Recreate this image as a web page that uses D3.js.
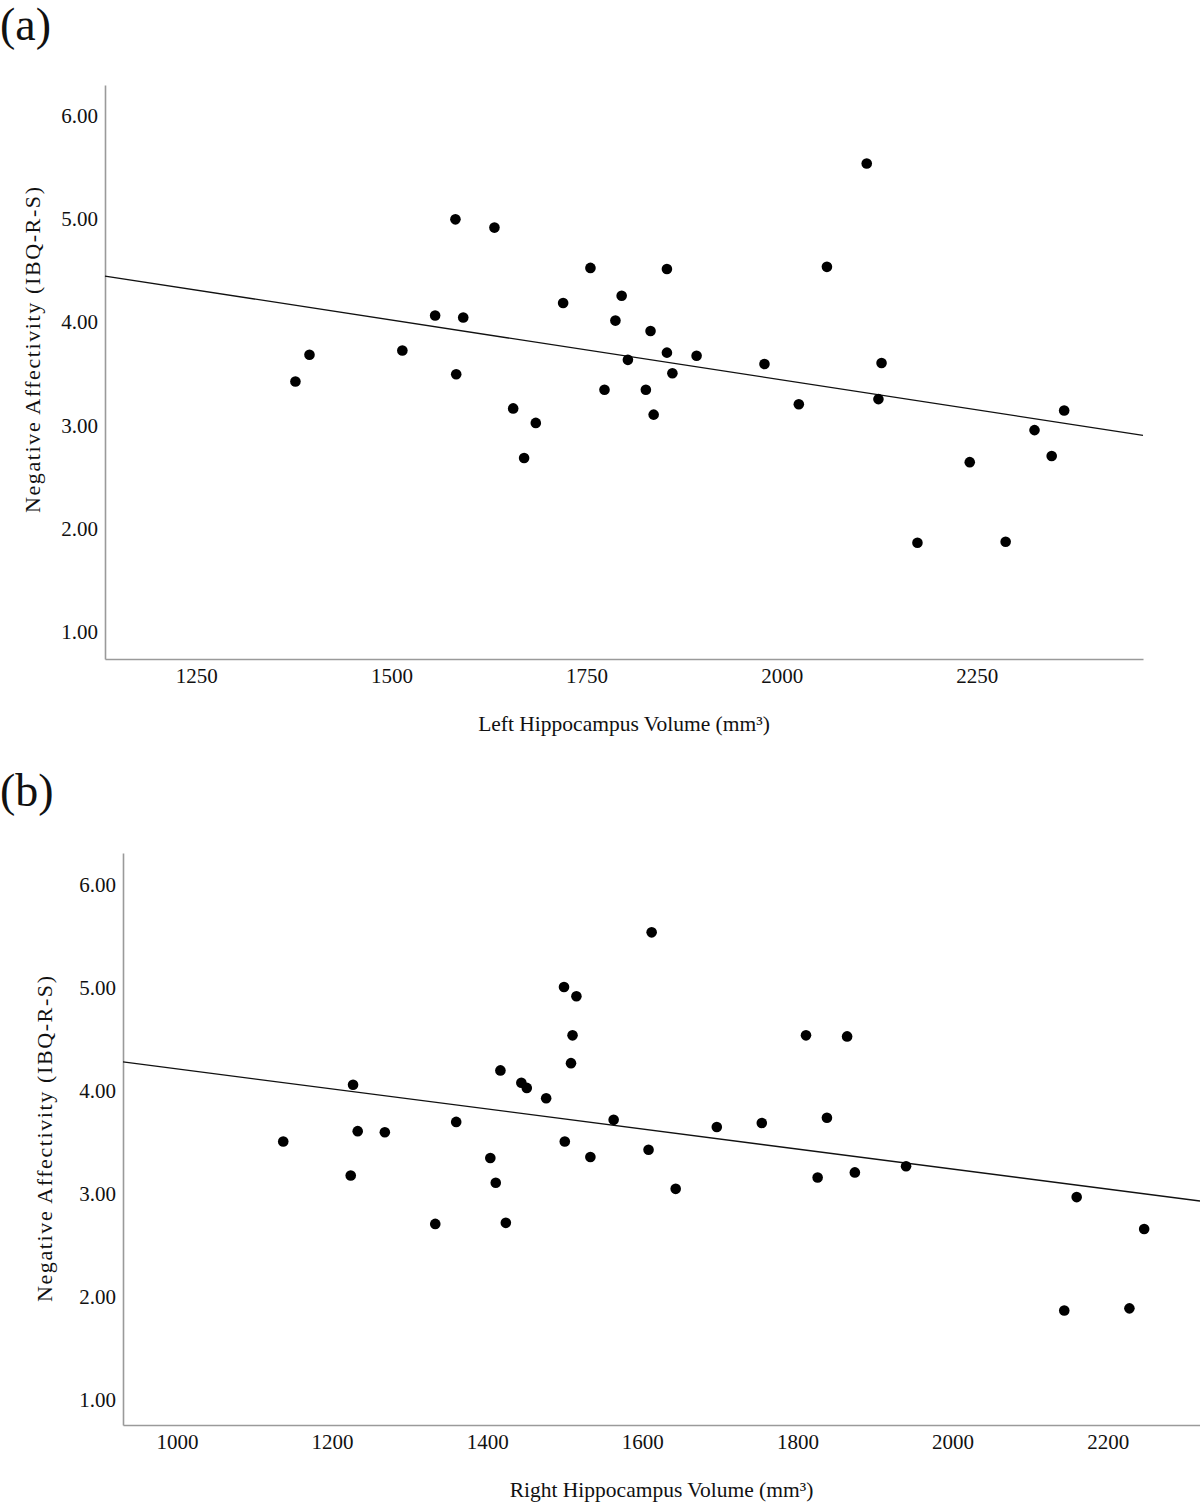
<!DOCTYPE html>
<html>
<head>
<meta charset="utf-8">
<script src="https://cdn.jsdelivr.net/npm/d3@7"></script>
<style>
  body { margin: 0; background: #fff; }
  svg text { font-family: "Liberation Serif", "Times New Roman", serif; fill: #111; }
</style>
</head>
<body>
<div id="chart"></div>
<script>
// panel (a): left hippocampus
const leftVolume = [1377, 1395, 1514, 1556, 1582, 1583, 1592, 1632, 1656, 1670, 1685, 1720,
  1755, 1773, 1787, 1795, 1803, 1826, 1832, 1836, 1853, 1853, 1860, 1891,
  1978, 2022, 2058, 2109, 2124, 2128, 2174, 2241, 2287, 2324, 2346, 2362];
const leftNA = [3.42, 3.68, 3.72, 4.06, 4.99, 3.49, 4.04, 4.91, 3.16, 2.68, 3.02, 4.18,
  4.52, 3.34, 4.01, 4.25, 3.63, 3.34, 3.91, 3.10, 4.51, 3.70, 3.50, 3.67,
  3.59, 3.20, 4.53, 5.53, 3.25, 3.60, 1.86, 2.64, 1.87, 2.95, 2.70, 3.14];
const leftFit = [5.754, -0.001159]; // intercept, slope

// panel (b): right hippocampus
const rightVolume = [1137, 1224, 1227, 1233, 1268, 1333, 1360, 1404, 1411, 1417, 1424, 1444,
  1451, 1476, 1499, 1500, 1508, 1510, 1515, 1533, 1563, 1608, 1612, 1643,
  1696, 1754, 1811, 1826, 1838, 1864, 1874, 1940, 2144, 2160, 2228, 2247];
const rightNA = [3.50, 3.17, 4.05, 3.60, 3.59, 2.70, 3.69, 3.34, 3.10, 4.19, 2.71, 4.07,
  4.02, 3.92, 5.00, 3.50, 4.26, 4.53, 4.91, 3.35, 3.71, 3.42, 5.53, 3.04,
  3.64, 3.68, 4.53, 3.15, 3.73, 4.52, 3.20, 3.26, 1.86, 2.96, 1.88, 2.65];
const rightFit = [5.176, -0.000972];

const yTicks = [1, 2, 3, 4, 5, 6];
const leftXTicks = [1250, 1500, 1750, 2000, 2250];
const rightXTicks = [1000, 1200, 1400, 1600, 1800, 2000, 2200];

const svg = d3.select("#chart")
  .append("svg")
  .attr("width", 1200)
  .attr("height", 1502);

function buildPanel(opts) {
  const g = svg.append("g");

  // panel letter
  g.append("text")
    .attr("x", 0)
    .attr("y", opts.letterY)
    .style("font-size", "46px")
    .text(opts.letter);

  const xscale = d3.scaleLinear().domain(opts.xDomain).range([opts.left, opts.right]);
  const yscale = d3.scaleLinear().domain(opts.yDomain).range([opts.bottom, opts.top]);

  const xAxis = d3.axisBottom(xscale).tickValues(opts.xTicks).tickSize(0).tickPadding(9)
    .tickFormat(d3.format("d"));
  const yAxis = d3.axisLeft(yscale).tickValues(yTicks).tickSize(0).tickPadding(7)
    .tickFormat(d3.format(".2f"));

  const xg = g.append("g")
    .attr("transform", `translate(0,${opts.bottom})`)
    .call(xAxis);
  const yg = g.append("g")
    .attr("transform", `translate(${opts.left},0)`)
    .call(yAxis);

  [xg, yg].forEach(a => {
    a.select(".domain").attr("stroke", "#9a9a9a").attr("stroke-width", 1.6);
    a.selectAll("text")
      .style("font-family", "'Liberation Serif', 'Times New Roman', serif")
      .style("font-size", "21px")
      .attr("fill", "#111");
  });
  xg.selectAll("text").attr("dy", "0.71em");
  yg.selectAll("text").attr("dy", "0.35em");

  // fit line across full x range
  const line = d3.line()
    .x(d => xscale(d))
    .y(d => yscale(opts.fit[0] + opts.fit[1] * d));
  g.append("path")
    .datum(opts.xDomain)
    .attr("d", line)
    .attr("fill", "none")
    .attr("stroke", "#111")
    .attr("stroke-width", 1.3);

  // dots
  g.selectAll(".dot")
    .data(opts.xs.map((x, i) => ({ x: x, y: opts.ys[i] })))
    .enter().append("circle")
    .attr("class", "dot")
    .attr("cx", d => xscale(d.x))
    .attr("cy", d => yscale(d.y))
    .attr("r", 5.3)
    .attr("fill", "#000");

  // xlabel
  g.append("text")
    .attr("x", (opts.left + opts.right) / 2)
    .attr("y", opts.bottom + 72)
    .style("text-anchor", "middle")
    .style("font-size", "21.5px")
    .text(opts.xlabel);

  // ylabel (a little stretched, like the original export)
  g.append("text")
    .attr("transform", `translate(${opts.ylabelX},${(opts.top + opts.bottom) / 2 + opts.ylabelShift}) rotate(-90)`)
    .style("text-anchor", "middle")
    .style("font-size", "22px")
    .attr("textLength", 326)
    .attr("lengthAdjust", "spacing")
    .text("Negative Affectivity (IBQ-R-S)");
}

buildPanel({
  letter: "(a)", letterY: 40,
  left: 105, right: 1143, top: 85, bottom: 659,
  xDomain: [1133, 2463], yDomain: [0.735, 6.29],
  xTicks: leftXTicks, xs: leftVolume, ys: leftNA, fit: leftFit,
  xlabel: "Left Hippocampus Volume (mm\u00B3)", ylabelX: 40, ylabelShift: -22
});

buildPanel({
  letter: "(b)", letterY: 806,
  left: 123, right: 1200, top: 853, bottom: 1425,
  xDomain: [930.4, 2319], yDomain: [0.748, 6.30],
  xTicks: rightXTicks, xs: rightVolume, ys: rightNA, fit: rightFit,
  xlabel: "Right Hippocampus Volume (mm\u00B3)", ylabelX: 52, ylabelShift: 0
});
</script>
</body>
</html>
